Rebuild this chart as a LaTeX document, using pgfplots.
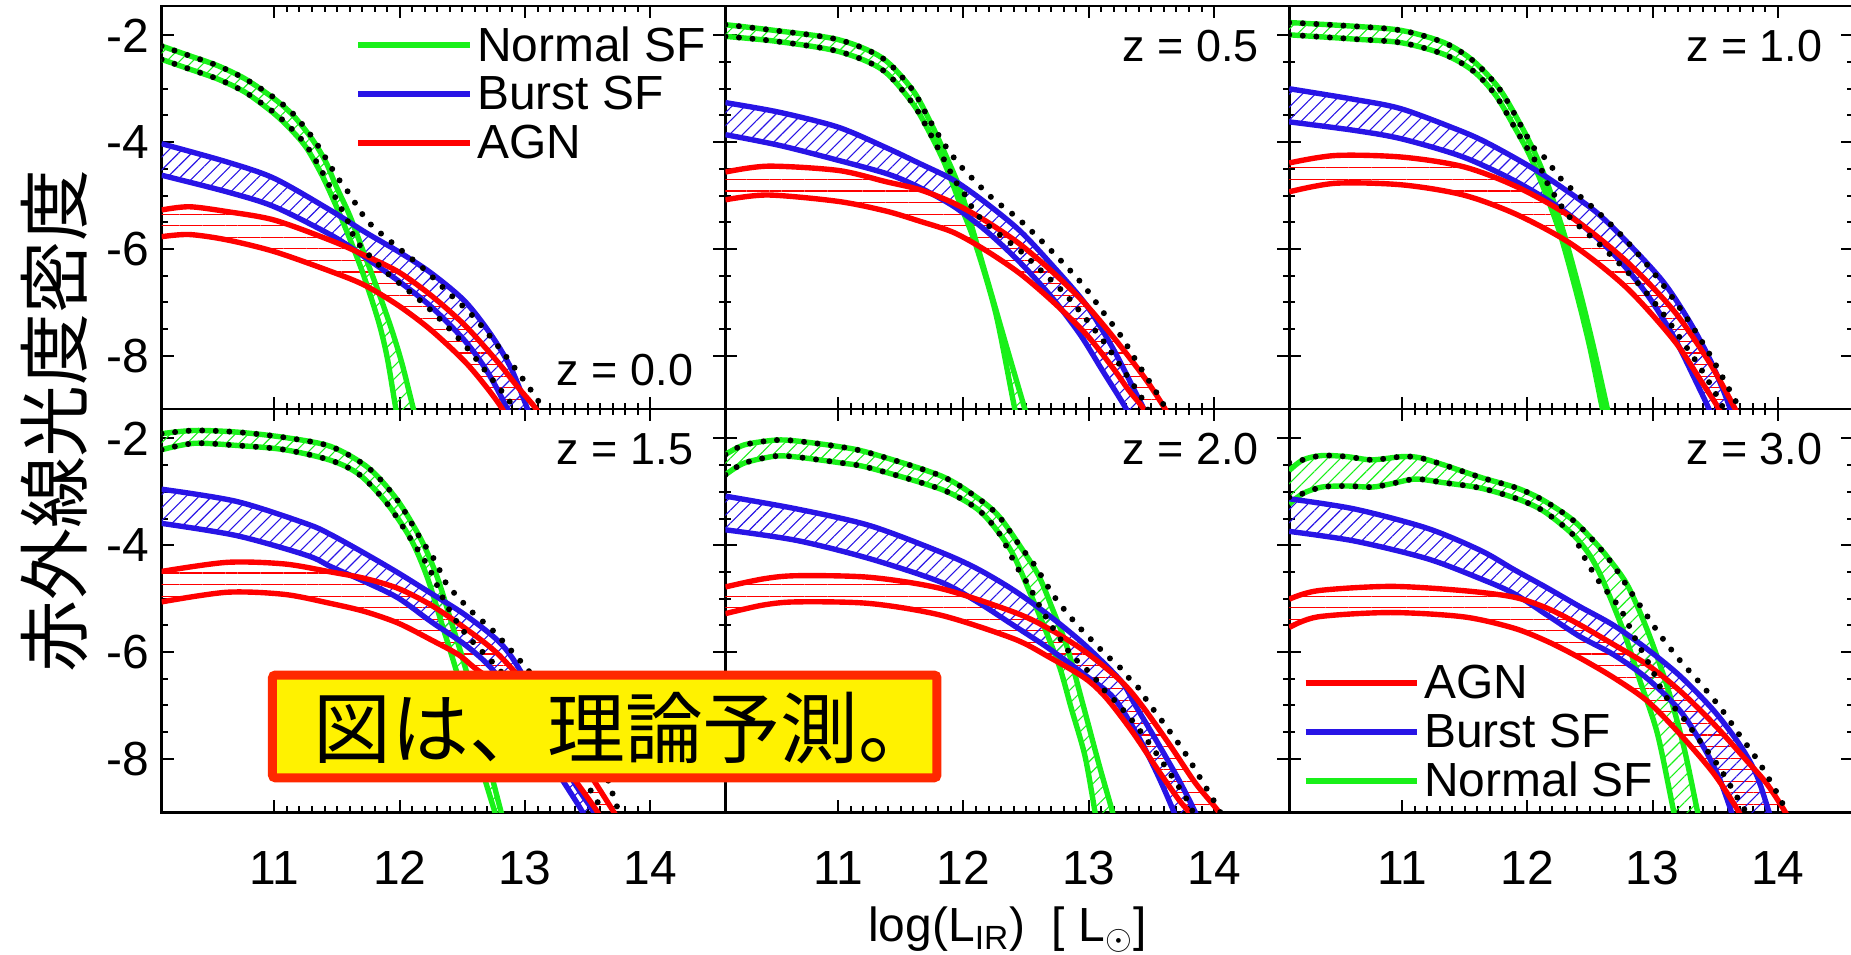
\documentclass[border=0pt]{standalone}
\usepackage{fontspec}
\setmainfont{Liberation Sans}
\newfontfamily\cjk{Noto Sans CJK JP}
\usepackage{pgfplots}
\pgfplotsset{compat=1.18}
\usepgfplotslibrary{groupplots,fillbetween}
\usetikzlibrary{calc,patterns.meta}

\definecolor{sfgreen}{RGB}{25,240,25}
\definecolor{sfblue}{RGB}{40,20,230}
\definecolor{agnred}{RGB}{255,0,0}
\definecolor{boxred}{RGB}{255,40,0}

\pgfplotsset{
  cv/.style={line width=2.7pt, smooth, tension=0.5},
  gl/.style={cv, sfgreen},
  bl/.style={cv, sfblue},
  rl/.style={cv, agnred},
  tl/.style={black, line width=3pt, line cap=round, dash pattern=on 0pt off 6.8pt, smooth, tension=0.5},
  gh/.style={draw=none, pattern={Lines[angle=45,distance=4.6pt,line width=0.55pt]}, pattern color=sfgreen},
  bh/.style={draw=none, pattern={Lines[angle=45,distance=4.6pt,line width=0.55pt]}, pattern color=sfblue},
  rh/.style={draw=none, pattern={Lines[angle=0,distance=5.8pt,line width=0.55pt]}, pattern color=agnred},
}
\tikzset{zlab/.style={anchor=east, font=\fontsize{22.5}{22.5}\selectfont}}

\begin{document}
\begin{tikzpicture}
\begin{groupplot}[
  group style={group size=3 by 2, horizontal sep=0pt, vertical sep=0pt,
    xticklabels at=edge bottom, yticklabels at=edge left},
  width=282.5pt, height=202pt, scale only axis, set layers,
  xmin=10.1, xmax=14.6, ymin=-9, ymax=-1.45,
  xtick={11,12,13,14}, ytick={-8,-6,-4,-2},
  minor x tick num=9, minor y tick num=3,
  tick align=inside, tick pos=both,
  major tick length=6pt, minor tick length=3pt,
  tick style={black, line width=1pt},
  axis line style={line width=1.3pt},
  ticklabel style={font=\fontsize{24}{24}\selectfont},
  /pgf/number format/assume math mode=true,
  xticklabel style={anchor=base, yshift=-36pt},
  yticklabel style={inner sep=0pt, xshift=-6pt},
  legend cell align=left,
  legend image code/.code={\draw[#1] (0pt,0pt) -- (56pt,0pt);},
  legend style={draw=none, fill=none, inner sep=0pt, row sep=2pt,
    font=\fontsize{24}{24}\selectfont},
]

% ---------- z = 0.0
\nextgroupplot[legend style={at={(0.343,0.96)}, anchor=north west}]
\addlegendimage{sfgreen, line width=3pt}\addlegendentry{Normal SF}
\addlegendimage{sfblue, line width=3pt}\addlegendentry{Burst SF}
\addlegendimage{agnred, line width=3pt}\addlegendentry{AGN}
\addplot[gl, name path=gUa] coordinates {(10.1,-2.20) (10.32,-2.38) (10.55,-2.57) (10.77,-2.82) (11.0,-3.19) (11.15,-3.50) (11.30,-3.94) (11.41,-4.37) (11.49,-4.81) (11.6,-5.37) (11.71,-6.05) (11.83,-6.80) (11.94,-7.54) (12.02,-8.16) (12.11,-9.0) (12.15,-9.3)};
\addplot[gl, name path=gLa] coordinates {(10.1,-2.45) (10.32,-2.63) (10.55,-2.82) (10.77,-3.07) (11.0,-3.47) (11.15,-3.81) (11.26,-4.12) (11.38,-4.62) (11.49,-5.18) (11.6,-5.80) (11.71,-6.48) (11.83,-7.35) (11.9,-8.03) (11.97,-9.0) (12.0,-9.3)};
\addplot[bl, name path=bUa] coordinates {(10.1,-4.03) (10.62,-4.37) (11.0,-4.68) (11.45,-5.28) (11.72,-5.68) (11.99,-6.05) (12.25,-6.45) (12.52,-6.98) (12.73,-7.61) (12.89,-8.24) (13.02,-9.0) (13.06,-9.3)};
\addplot[bl, name path=bLa] coordinates {(10.1,-4.62) (10.62,-4.93) (11.0,-5.21) (11.46,-5.75) (11.72,-6.15) (11.99,-6.6) (12.25,-7.08) (12.52,-7.72) (12.7,-8.3) (12.86,-9.0) (12.9,-9.3)};
\addplot[rl, name path=rUa] coordinates {(10.1,-5.27) (10.32,-5.21) (10.62,-5.3) (11.0,-5.46) (11.46,-5.85) (11.72,-6.12) (11.99,-6.43) (12.25,-6.87) (12.52,-7.43) (12.78,-8.11) (12.94,-8.58) (13.09,-9.0) (13.15,-9.3)};
\addplot[rl, name path=rLa] coordinates {(10.1,-5.77) (10.32,-5.73) (10.62,-5.83) (11.0,-6.05) (11.46,-6.43) (11.72,-6.68) (11.99,-7.06) (12.25,-7.52) (12.52,-8.11) (12.7,-8.61) (12.82,-9.0) (12.88,-9.3)};
\addplot[rh] fill between[of=rUa and rLa];
\addplot[bh] fill between[of=bUa and bLa];
\addplot[gh] fill between[of=gUa and gLa];
\addplot[tl] coordinates {(10.1,-2.20) (10.32,-2.38) (10.55,-2.57) (10.77,-2.82) (11.0,-3.17) (11.15,-3.47) (11.30,-3.90) (11.41,-4.30) (11.5,-4.65) (11.59,-4.94) (11.72,-5.41) (11.81,-5.63) (12.0,-6.0) (12.2,-6.39) (12.38,-6.80) (12.57,-7.22) (12.73,-7.66) (12.89,-8.14) (13.04,-8.62) (13.15,-9.0)};
\addplot[tl] coordinates {(10.1,-2.45) (10.32,-2.63) (10.55,-2.82) (10.77,-3.07) (11.0,-3.45) (11.15,-3.78) (11.26,-4.08) (11.38,-4.55) (11.49,-5.05) (11.58,-5.45) (11.64,-5.80) (11.72,-6.03) (11.89,-6.43) (12.0,-6.65) (12.19,-7.02) (12.37,-7.43) (12.54,-7.86) (12.7,-8.33) (12.86,-8.80) (12.92,-9.0)};
\node[zlab] at (rel axis cs:0.955,0.097) {z = 0.0};

% ---------- z = 0.5
\nextgroupplot
\addplot[gl, name path=gUb] coordinates {(10.1,-1.80) (10.5,-1.91) (11.0,-2.08) (11.35,-2.42) (11.59,-3.01) (11.72,-3.55) (11.85,-4.2) (11.99,-5.0) (12.18,-6.5) (12.34,-7.8) (12.49,-9.0) (12.53,-9.3)};
\addplot[gl, name path=gLb] coordinates {(10.1,-2.02) (10.5,-2.11) (11.0,-2.30) (11.35,-2.64) (11.59,-3.26) (11.72,-3.78) (11.85,-4.4) (11.98,-5.2) (12.1,-5.94) (12.26,-7.23) (12.41,-9.0) (12.45,-9.3)};
\addplot[bl, name path=bUb] coordinates {(10.1,-3.26) (10.53,-3.44) (11.0,-3.72) (11.38,-4.10) (11.65,-4.4) (11.92,-4.71) (12.18,-5.14) (12.45,-5.66) (12.71,-6.31) (12.98,-7.05) (13.19,-7.85) (13.35,-8.58) (13.44,-9.0) (13.5,-9.3)};
\addplot[bl, name path=bLb] coordinates {(10.1,-3.86) (10.53,-4.06) (11.0,-4.34) (11.4,-4.6) (11.65,-4.85) (11.92,-5.2) (12.18,-5.66) (12.45,-6.25) (12.71,-6.92) (12.93,-7.6) (13.11,-8.28) (13.3,-9.0) (13.35,-9.3)};
\addplot[rl, name path=rUb] coordinates {(10.1,-4.56) (10.44,-4.45) (11.0,-4.53) (11.38,-4.74) (11.65,-4.89) (11.92,-5.14) (12.18,-5.48) (12.45,-5.91) (12.71,-6.43) (12.98,-7.05) (13.24,-7.78) (13.46,-8.46) (13.61,-9.0) (13.67,-9.3)};
\addplot[rl, name path=rLb] coordinates {(10.1,-5.08) (10.44,-4.99) (11.0,-5.11) (11.38,-5.29) (11.65,-5.48) (11.92,-5.69) (12.18,-6.03) (12.45,-6.46) (12.71,-6.98) (12.98,-7.6) (13.19,-8.22) (13.32,-8.65) (13.44,-9.0) (13.5,-9.3)};
\addplot[rh] fill between[of=rUb and rLb];
\addplot[bh] fill between[of=bUb and bLb];
\addplot[gh] fill between[of=gUb and gLb];
\addplot[tl] coordinates {(10.1,-1.80) (10.5,-1.91) (11.0,-2.08) (11.35,-2.42) (11.59,-3.01) (11.72,-3.55) (11.85,-4.05) (11.96,-4.40) (12.05,-4.63) (12.23,-5.05) (12.43,-5.42) (12.61,-5.82) (12.79,-6.25) (12.96,-6.69) (13.11,-7.17) (13.26,-7.64) (13.39,-8.14) (13.53,-8.65) (13.63,-9.05)};
\addplot[tl] coordinates {(10.1,-2.02) (10.5,-2.11) (11.0,-2.30) (11.35,-2.64) (11.59,-3.26) (11.72,-3.78) (11.85,-4.35) (11.94,-4.75) (12.01,-4.98) (12.07,-5.23) (12.15,-5.46) (12.25,-5.66) (12.45,-6.03) (12.63,-6.43) (12.81,-6.84) (12.97,-7.29) (13.13,-7.77) (13.27,-8.25) (13.41,-8.74) (13.48,-9.05)};
\node[zlab] at (rel axis cs:0.958,0.9) {z = 0.5};

% ---------- z = 1.0
\nextgroupplot
\addplot[gl, name path=gUc] coordinates {(10.1,-1.76) (10.62,-1.83) (11.0,-1.91) (11.34,-2.14) (11.57,-2.48) (11.78,-3.01) (11.95,-3.69) (12.06,-4.2) (12.16,-4.77) (12.29,-5.69) (12.42,-6.8) (12.53,-7.85) (12.64,-9.0) (12.67,-9.3)};
\addplot[gl, name path=gLc] coordinates {(10.1,-1.99) (10.62,-2.07) (11.0,-2.14) (11.34,-2.36) (11.57,-2.67) (11.75,-3.13) (11.92,-3.81) (12.02,-4.25) (12.12,-4.8) (12.26,-5.7) (12.39,-6.8) (12.5,-7.85) (12.6,-9.0) (12.63,-9.3)};
\addplot[bl, name path=bUc] coordinates {(10.1,-3.0) (10.62,-3.2) (11.0,-3.38) (11.49,-3.81) (11.71,-4.05) (12.03,-4.47) (12.29,-4.87) (12.56,-5.33) (12.82,-5.93) (13.09,-6.63) (13.3,-7.38) (13.46,-8.08) (13.57,-8.68) (13.62,-9.0) (13.66,-9.3)};
\addplot[bl, name path=bLc] coordinates {(10.1,-3.62) (10.62,-3.78) (11.0,-3.94) (11.49,-4.28) (11.92,-4.75) (12.3,-5.3) (12.65,-6.0) (12.94,-6.8) (13.17,-7.65) (13.35,-8.5) (13.45,-9.0) (13.49,-9.3)};
\addplot[rl, name path=rUc] coordinates {(10.1,-4.39) (10.47,-4.25) (11.0,-4.28) (11.49,-4.46) (11.92,-4.84) (12.36,-5.42) (12.79,-6.23) (13.17,-7.16) (13.46,-8.15) (13.66,-9.0) (13.72,-9.3)};
\addplot[rl, name path=rLc] coordinates {(10.1,-4.93) (10.47,-4.77) (11.0,-4.80) (11.49,-4.99) (11.92,-5.36) (12.36,-5.92) (12.79,-6.72) (13.17,-7.71) (13.40,-8.52) (13.53,-9.0) (13.58,-9.3)};
\addplot[rh] fill between[of=rUc and rLc];
\addplot[bh] fill between[of=bUc and bLc];
\addplot[gh] fill between[of=gUc and gLc];
\addplot[tl] coordinates {(10.1,-1.76) (10.62,-1.83) (11.0,-1.91) (11.34,-2.14) (11.57,-2.48) (11.78,-3.01) (11.95,-3.69) (12.05,-4.1) (12.12,-4.24) (12.19,-4.45) (12.27,-4.69) (12.36,-4.89) (12.55,-5.28) (12.73,-5.69) (12.9,-6.14) (13.06,-6.6) (13.21,-7.08) (13.35,-7.57) (13.48,-8.07) (13.6,-8.58) (13.71,-9.05)};
\addplot[tl] coordinates {(10.1,-1.99) (10.62,-2.07) (11.0,-2.14) (11.34,-2.36) (11.57,-2.67) (11.75,-3.13) (11.92,-3.81) (12.05,-4.3) (12.11,-4.5) (12.16,-4.77) (12.29,-5.26) (12.37,-5.48) (12.57,-5.9) (12.75,-6.31) (12.92,-6.74) (13.08,-7.2) (13.22,-7.67) (13.36,-8.15) (13.49,-8.65) (13.58,-9.05)};
\node[zlab] at (rel axis cs:0.958,0.9) {z = 1.0};

% ---------- z = 1.5
\nextgroupplot
\addplot[gl, name path=gUd] coordinates {(10.1,-1.91) (10.36,-1.85) (10.7,-1.88) (11.08,-1.98) (11.45,-2.15) (11.75,-2.55) (11.98,-3.15) (12.17,-3.89) (12.3,-4.6) (12.42,-5.5) (12.54,-6.43) (12.69,-7.90) (12.81,-9.0) (12.85,-9.3)};
\addplot[gl, name path=gLd] coordinates {(10.1,-2.21) (10.36,-2.09) (10.7,-2.13) (11.08,-2.21) (11.45,-2.41) (11.68,-2.68) (11.9,-3.22) (12.09,-3.89) (12.22,-4.6) (12.34,-5.5) (12.47,-6.5) (12.62,-7.90) (12.76,-9.0) (12.8,-9.3)};
\addplot[bl, name path=bUd] coordinates {(10.1,-2.95) (10.7,-3.18) (11.26,-3.6) (11.45,-3.8) (11.72,-4.15) (11.99,-4.52) (12.25,-4.9) (12.52,-5.3) (12.79,-5.8) (12.95,-6.3) (13.18,-7.35) (13.37,-8.35) (13.55,-9.0) (13.6,-9.3)};
\addplot[bl, name path=bLd] coordinates {(10.1,-3.59) (10.7,-3.82) (11.26,-4.19) (11.45,-4.4) (11.72,-4.68) (11.99,-4.99) (12.25,-5.43) (12.52,-5.86) (12.73,-6.3) (12.95,-7.0) (13.22,-8.1) (13.46,-9.0) (13.5,-9.3)};
\addplot[rl, name path=rUd] coordinates {(10.1,-4.49) (10.62,-4.32) (11.08,-4.35) (11.45,-4.5) (11.72,-4.62) (11.99,-4.81) (12.25,-5.12) (12.52,-5.55) (12.79,-6.05) (13.11,-6.9) (13.41,-7.9) (13.71,-9.0) (13.78,-9.3)};
\addplot[rl, name path=rLd] coordinates {(10.1,-5.06) (10.62,-4.88) (11.08,-4.92) (11.45,-5.09) (11.72,-5.24) (11.99,-5.46) (12.25,-5.77) (12.47,-6.05) (12.6,-6.3) (12.8,-6.65) (13.11,-7.4) (13.37,-8.3) (13.58,-9.0) (13.63,-9.3)};
\addplot[rh] fill between[of=rUd and rLd];
\addplot[bh] fill between[of=bUd and bLd];
\addplot[gh] fill between[of=gUd and gLd];
\addplot[tl] coordinates {(10.1,-1.91) (10.36,-1.85) (10.7,-1.88) (11.08,-1.98) (11.45,-2.15) (11.75,-2.55) (11.98,-3.15) (12.17,-3.89) (12.28,-4.28) (12.37,-4.71) (12.47,-4.98) (12.56,-5.21) (12.65,-5.4) (12.75,-5.61) (12.92,-6.05) (13.0,-6.27) (13.33,-7.2) (13.5,-7.75) (13.63,-8.2) (13.72,-8.8) (13.76,-9.05)};
\addplot[tl] coordinates {(10.1,-2.21) (10.36,-2.09) (10.7,-2.13) (11.08,-2.21) (11.45,-2.41) (11.68,-2.68) (11.9,-3.22) (12.09,-3.89) (12.19,-4.25) (12.25,-4.5) (12.31,-4.81) (12.36,-5.06) (12.43,-5.34) (12.5,-5.58) (12.58,-5.8) (12.67,-6.02) (12.76,-6.24) (13.14,-7.25) (13.38,-8.05) (13.59,-8.85) (13.63,-9.05)};
\node[zlab] at (rel axis cs:0.955,0.9) {z = 1.5};

% ---------- z = 2.0
\nextgroupplot
\addplot[gl, name path=gUe] coordinates {(10.1,-2.30) (10.25,-2.12) (10.5,-2.03) (10.68,-2.05) (11.0,-2.15) (11.25,-2.27) (11.82,-2.7) (12.11,-3.11) (12.28,-3.45) (12.45,-4.01) (12.6,-4.57) (12.71,-5.19) (12.83,-5.93) (12.95,-6.95) (13.08,-8.09) (13.19,-9.0) (13.22,-9.3)};
\addplot[gl, name path=gLe] coordinates {(10.1,-2.68) (10.25,-2.46) (10.5,-2.33) (10.68,-2.35) (11.0,-2.45) (11.25,-2.55) (11.82,-2.95) (12.11,-3.32) (12.28,-3.76) (12.4,-4.19) (12.54,-4.94) (12.65,-5.56) (12.77,-6.3) (12.86,-7.05) (12.97,-7.95) (13.05,-9.0) (13.07,-9.3)};
\addplot[bl, name path=bUe] coordinates {(10.1,-3.08) (10.67,-3.32) (11.25,-3.63) (11.82,-4.13) (12.11,-4.44) (12.4,-4.84) (12.68,-5.31) (12.97,-5.87) (13.26,-6.55) (13.37,-6.99) (13.55,-7.7) (13.72,-8.4) (13.85,-9.0) (13.9,-9.3)};
\addplot[bl, name path=bLe] coordinates {(10.1,-3.71) (10.67,-3.91) (11.25,-4.25) (11.82,-4.69) (12.11,-5.06) (12.4,-5.5) (12.68,-5.93) (12.97,-6.43) (13.2,-6.86) (13.4,-7.6) (13.55,-8.3) (13.68,-9.0) (13.72,-9.3)};
\addplot[rl, name path=rUe] coordinates {(10.1,-4.78) (10.4,-4.63) (10.67,-4.57) (11.25,-4.6) (11.82,-4.81) (12.4,-5.25) (12.68,-5.56) (12.97,-5.99) (13.26,-6.55) (13.43,-7.02) (13.65,-7.75) (13.85,-8.45) (14.04,-9.0) (14.1,-9.3)};
\addplot[rl, name path=rLe] coordinates {(10.1,-5.28) (10.4,-5.12) (10.67,-5.06) (11.25,-5.09) (11.82,-5.31) (12.4,-5.75) (12.68,-6.09) (12.97,-6.49) (13.14,-6.86) (13.35,-7.5) (13.55,-8.2) (13.72,-8.77) (13.8,-9.0) (13.86,-9.3)};
\addplot[rh] fill between[of=rUe and rLe];
\addplot[bh] fill between[of=bUe and bLe];
\addplot[gh] fill between[of=gUe and gLe];
\addplot[tl] coordinates {(10.1,-2.30) (10.25,-2.12) (10.5,-2.03) (10.68,-2.05) (11.0,-2.15) (11.25,-2.27) (11.82,-2.7) (12.11,-3.11) (12.28,-3.45) (12.45,-4.01) (12.57,-4.38) (12.71,-4.91) (12.79,-5.16) (12.87,-5.39) (12.95,-5.6) (13.05,-5.84) (13.14,-6.06) (13.23,-6.24) (13.31,-6.46) (13.4,-6.68) (13.47,-6.93) (13.61,-7.37) (13.76,-7.86) (13.89,-8.36) (14.02,-8.87) (14.06,-9.05)};
\addplot[tl] coordinates {(10.1,-2.68) (10.25,-2.46) (10.5,-2.33) (10.68,-2.35) (11.0,-2.45) (11.25,-2.55) (11.82,-2.95) (12.11,-3.32) (12.28,-3.76) (12.4,-4.29) (12.45,-4.5) (12.52,-4.75) (12.62,-5.19) (12.7,-5.5) (12.78,-5.78) (12.85,-6.02) (12.94,-6.24) (13.03,-6.43) (13.11,-6.68) (13.2,-6.89) (13.36,-7.32) (13.51,-7.8) (13.65,-8.28) (13.79,-8.79) (13.84,-9.05)};
\node[zlab] at (rel axis cs:0.958,0.9) {z = 2.0};

% ---------- z = 3.0
\nextgroupplot[legend style={at={(0.023,0.02)}, anchor=south west}]
\addlegendimage{agnred, line width=3pt}\addlegendentry{AGN}
\addlegendimage{sfblue, line width=3pt}\addlegendentry{Burst SF}
\addlegendimage{sfgreen, line width=3pt}\addlegendentry{Normal SF}
\addplot[gl, name path=gUf] coordinates {(10.1,-2.6) (10.21,-2.40) (10.36,-2.32) (10.56,-2.34) (10.76,-2.40) (11.0,-2.34) (11.14,-2.36) (11.34,-2.50) (11.63,-2.73) (11.92,-2.93) (12.13,-3.16) (12.36,-3.52) (12.53,-3.92) (12.65,-4.25) (12.8,-4.75) (12.96,-5.6) (13.12,-6.67) (13.25,-7.78) (13.36,-9.0) (13.39,-9.3)};
\addplot[gl, name path=gLf] coordinates {(10.1,-3.23) (10.21,-3.03) (10.36,-2.91) (10.56,-2.89) (10.76,-2.91) (10.91,-2.85) (11.11,-2.76) (11.34,-2.83) (11.63,-2.93) (11.92,-3.13) (12.13,-3.36) (12.36,-3.79) (12.5,-4.19) (12.61,-4.69) (12.77,-5.62) (12.9,-6.54) (13.04,-7.54) (13.17,-9.0) (13.2,-9.3)};
\addplot[bl, name path=bUf] coordinates {(10.1,-3.13) (10.62,-3.32) (11.2,-3.68) (11.63,-4.1) (11.89,-4.45) (12.16,-4.8) (12.42,-5.15) (12.69,-5.5) (12.96,-5.95) (13.22,-6.45) (13.49,-7.1) (13.7,-7.75) (13.83,-8.3) (13.93,-9.0) (13.97,-9.3)};
\addplot[bl, name path=bLf] coordinates {(10.1,-3.74) (10.62,-3.92) (11.2,-4.25) (11.63,-4.63) (11.89,-4.9) (12.16,-5.31) (12.42,-5.71) (12.69,-6.05) (12.96,-6.5) (13.22,-7.1) (13.4,-7.75) (13.53,-8.35) (13.63,-9.0) (13.66,-9.3)};
\addplot[rl, name path=rUf] coordinates {(10.1,-5.01) (10.33,-4.85) (10.91,-4.77) (11.49,-4.85) (11.89,-4.97) (12.16,-5.18) (12.42,-5.49) (12.69,-5.86) (12.96,-6.24) (13.22,-6.73) (13.49,-7.35) (13.75,-8.03) (13.91,-8.46) (14.06,-9.0) (14.12,-9.3)};
\addplot[rl, name path=rLf] coordinates {(10.1,-5.54) (10.33,-5.34) (10.91,-5.26) (11.49,-5.34) (11.89,-5.55) (12.16,-5.8) (12.42,-6.11) (12.69,-6.48) (12.96,-6.92) (13.22,-7.54) (13.49,-8.28) (13.69,-9.0) (13.74,-9.3)};
\addplot[rh] fill between[of=rUf and rLf];
\addplot[bh] fill between[of=bUf and bLf];
\addplot[gh] fill between[of=gUf and gLf];
\addplot[tl] coordinates {(10.1,-2.45) (10.21,-2.40) (10.36,-2.32) (10.56,-2.34) (10.76,-2.40) (11.0,-2.34) (11.14,-2.36) (11.34,-2.50) (11.63,-2.73) (11.92,-2.93) (12.13,-3.16) (12.36,-3.52) (12.53,-3.92) (12.68,-4.35) (12.82,-4.85) (12.95,-5.3) (13.06,-5.68) (13.22,-6.16) (13.39,-6.61) (13.55,-7.07) (13.69,-7.54) (13.84,-8.03) (13.97,-8.54) (14.03,-8.8) (14.08,-9.05)};
\addplot[tl] coordinates {(10.1,-3.1) (10.21,-3.03) (10.36,-2.91) (10.56,-2.89) (10.76,-2.91) (10.91,-2.85) (11.11,-2.76) (11.34,-2.83) (11.63,-2.93) (11.92,-3.13) (12.13,-3.36) (12.36,-3.79) (12.44,-4.16) (12.57,-4.67) (12.74,-5.18) (12.86,-5.74) (12.99,-6.3) (13.06,-6.65) (13.14,-6.95) (13.24,-7.22) (13.38,-7.67) (13.53,-8.15) (13.66,-8.66) (13.76,-9.05)};
\node[zlab] at (rel axis cs:0.958,0.9) {z = 3.0};
\end{groupplot}

\node[rotate=90, font=\cjk\fontsize{36}{36}\selectfont]
  at ($(group c1r1.north west)!0.5!(group c1r2.south west)+(-54pt,-6pt)$) {赤外線光度密度};
\node[anchor=base, font=\fontsize{24}{24}\selectfont]
  at ($(group c2r2.south)+(0,-65pt)$) {log(L\textsubscript{IR})~~[~L$_\odot$]};
\node[draw=boxred, line width=4.5pt, fill=yellow, rounded corners=1.5pt,
  minimum width=333pt, minimum height=51.5pt, inner sep=0pt]
  at ($(group c1r2.south west)+(222pt,43pt)$) {};
\node[anchor=west, inner sep=0pt, font=\cjk\fontsize{39}{39}\selectfont]
  at ($(group c1r2.south west)+(76pt,42pt)$) {図は、理論予測。};

\pgfresetboundingbox
\path[use as bounding box] ($(group c1r1.north west)+(-81pt,3pt)$) rectangle ($(group c3r2.south east)+(-1pt,-71.5pt)$);
\end{tikzpicture}
\end{document}
